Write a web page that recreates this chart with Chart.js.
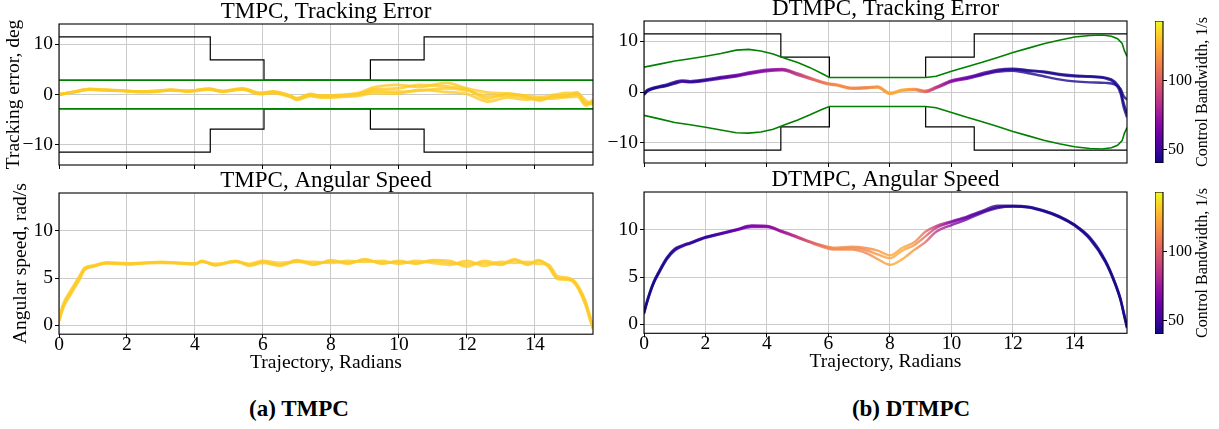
<!DOCTYPE html>
<html>
<head>
<meta charset="utf-8">
<script src="https://cdn.jsdelivr.net/npm/chart.js@4.4.1/dist/chart.umd.min.js"></script>
<style>
  body { margin: 0; background: #fff; }
  #fig { position: relative; width: 1219px; height: 429px; overflow: hidden; font-family: "Liberation Serif", "Times New Roman", serif; color: #000; }
  .box { position: absolute; }
  .caption { position: absolute; width: 300px; font-family: "Liberation Serif", serif; font-weight: bold; font-size: 23px; line-height: 23px; text-align: center; }
  .cblabel { position: absolute; font-family: "Liberation Serif", serif; font-size: 16px; line-height: 16px; white-space: nowrap; transform: translate(-50%, -50%) rotate(-90deg); }
</style>
</head>
<body>
<div id="fig">
  <div class="box" style="left:0;top:0;width:600px;height:172px"><canvas id="tmpcErr"></canvas></div>
  <div class="box" style="left:0;top:169.3px;width:600px;height:210.2px"><canvas id="tmpcSpeed"></canvas></div>
  <div class="box" style="left:600px;top:-2.7px;width:530px;height:173px"><canvas id="dtmpcErr"></canvas></div>
  <div class="box" style="left:600px;top:168px;width:530px;height:210.3px"><canvas id="dtmpcSpeed"></canvas></div>
  <div class="box" style="left:1155px;top:21.3px;width:58px;height:142px"><canvas id="cbTop"></canvas></div>
  <div class="box" style="left:1155px;top:192px;width:58px;height:142px"><canvas id="cbBottom"></canvas></div>
  <div class="cblabel" style="left:1202px;top:92.3px">Control Bandwidth, 1/s</div>
  <div class="cblabel" style="left:1202px;top:263px">Control Bandwidth, 1/s</div>
  <div class="caption" style="left:149px;top:397px">(a) TMPC</div>
  <div class="caption" style="left:761px;top:397px">(b) DTMPC</div>
</div>
<script>
// 軸範圍與刻度
const xMax = 15.708;
const xTicks = [0, 2, 4, 6, 8, 10, 12, 14];
const errTicks = [-10, 0, 10];
const speedTicks = [0, 5, 10];
const cbTicks = [50, 100];
const errRange = [-14, 14];
const speedRange = [-0.95, 14];
const cbRange = [40.4, 143.3];

// 黑色階梯界限
const boundX = [0, 4.45, 6.03, 9.16, 10.74, 15.708];
const boundUpper = [11.46, 6.88, 2.86, 6.88, 11.46, 11.46];
const boundLower = [-11.46, -6.88, -2.86, -6.88, -11.46, -11.46];

// TMPC 綠色管道 (固定)
const tmpcTubeX = [0, 15.708];
const tmpcTubeUpper = [2.86, 2.86];
const tmpcTubeLower = [-2.86, -2.86];
const tmpcBandwidth = 132;

// TMPC 追蹤誤差
const tmpcErrX = [0, 0.4, 0.9, 1.35, 1.85, 2.35, 2.8, 3.3, 3.8, 4.4, 4.8, 5.4, 5.9, 6.3, 6.8, 7.0, 7.4, 7.7, 8.25, 8.85, 9.25, 9.95, 10.6, 11.4, 12.0, 12.6, 13.2, 13.75, 14.15, 14.55, 14.95, 15.25, 15.5, 15.708];
const tmpcErrRun1 = [0, 0.45, 1.0, 0.85, 0.75, 0.55, 0.6, 0.85, 0.65, 1.05, 0.65, 1.05, 0.2, 0.45, -0.35, -0.9, -0.15, -0.45, -0.35, 0.0, 0.7, 0.55, 0.75, 1.2, 0.75, -0.3, -0.15, -0.6, -1.0, -0.45, -0.35, 0.05, -1.7, -1.5];
const tmpcErrRun2 = [0, 0.5, 1.1, 0.95, 0.8, 0.6, 0.7, 0.95, 0.7, 1.15, 0.7, 1.2, 0.35, 0.6, -0.2, -0.7, 0.1, -0.2, -0.1, 0.4, 1.4, 1.9, 1.5, 2.3, 1.2, 0.4, 0.2, -0.2, -0.5, -0.1, 0.3, 0.2, -1.2, -2.0];
const tmpcErrRun3 = [0, 0.4, 0.95, 0.8, 0.7, 0.5, 0.55, 0.8, 0.6, 0.95, 0.55, 0.95, 0.1, 0.3, -0.5, -1.05, -0.3, -0.6, -0.5, -0.2, 0.3, 0.2, 0.9, 0.5, 0.1, -1.4, -0.6, -1.0, -0.7, -0.8, -0.5, -0.4, -2.2, -1.0];
const tmpcErrRun4 = [0, 0.45, 1.05, 0.9, 0.75, 0.6, 0.65, 0.9, 0.7, 1.1, 0.6, 1.1, 0.25, 0.5, -0.3, -0.8, 0.0, -0.3, -0.2, 0.2, 1.0, 1.2, 1.9, 1.6, 1.0, -0.8, 0.1, -0.4, -1.2, -0.3, -0.1, 0.4, -1.9, -1.8];

// TMPC 角速度
const tmpcSpeedX = [0, 0.12, 0.35, 0.6, 0.76, 1.0, 1.4, 2.0, 2.5, 3.0, 3.5, 4.0, 4.2, 4.6, 5.2, 5.6, 6.0, 6.5, 7.0, 7.5, 8.0, 8.5, 9.0, 9.5, 10.0, 10.5, 11.0, 11.5, 12.0, 12.5, 13.0, 13.4, 13.8, 14.1, 14.4, 14.66, 15.0, 15.18, 15.47, 15.64, 15.708];
const tmpcSpeedRun1 = [0.5, 2.0, 3.5, 5.0, 6.0, 6.25, 6.6, 6.5, 6.6, 6.65, 6.6, 6.5, 6.75, 6.4, 6.8, 6.4, 6.7, 6.4, 6.9, 6.5, 6.75, 6.6, 6.9, 6.6, 6.7, 6.6, 6.8, 6.6, 6.5, 6.6, 6.4, 6.9, 6.4, 6.8, 6.3, 5.0, 4.9, 4.5, 2.5, 0.5, -0.3];
const tmpcSpeedRun2 = [0.6, 2.2, 3.7, 5.2, 6.1, 6.3, 6.65, 6.55, 6.6, 6.7, 6.6, 6.55, 6.7, 6.5, 6.7, 6.5, 6.8, 6.6, 6.7, 6.7, 6.6, 6.8, 6.7, 6.8, 6.5, 6.8, 6.6, 6.4, 6.8, 6.3, 6.7, 6.6, 6.7, 6.5, 6.4, 5.2, 5.0, 4.6, 2.7, 0.7, -0.2];
const tmpcSpeedRun3 = [0.4, 1.8, 3.3, 4.8, 5.9, 6.2, 6.55, 6.45, 6.55, 6.6, 6.55, 6.45, 6.8, 6.35, 6.75, 6.3, 6.6, 6.3, 6.8, 6.4, 6.9, 6.5, 7.0, 6.5, 6.8, 6.5, 6.9, 6.8, 6.2, 6.8, 6.5, 7.0, 6.5, 6.9, 6.2, 4.9, 4.8, 4.4, 2.3, 0.4, -0.4];

// DTMPC 綠色管道
const dtmpcTubeX = [0, 0.5, 1.0, 1.5, 2.0, 2.5, 3.0, 3.4, 3.8, 4.2, 4.6, 5.0, 5.4, 5.8, 6.03, 9.16, 9.5, 10.0, 10.5, 11.0, 11.5, 12.0, 12.5, 13.0, 13.5, 14.0, 14.5, 14.9, 15.2, 15.4, 15.55, 15.62, 15.708];
const dtmpcTubeUpper = [4.9, 5.5, 6.1, 6.55, 7.05, 7.6, 8.25, 8.4, 8.1, 7.5, 6.6, 5.8, 4.8, 3.6, 2.86, 2.86, 3.1, 4.1, 5.0, 5.85, 6.8, 7.8, 8.65, 9.5, 10.2, 10.85, 11.15, 11.25, 11.0, 10.5, 9.6, 8.2, 7.0];
const dtmpcTubeLower = [-4.6, -5.3, -6.0, -6.45, -6.95, -7.5, -8.05, -8.1, -7.9, -7.35, -6.4, -5.5, -4.5, -3.4, -2.86, -2.86, -3.1, -4.05, -5.0, -5.85, -6.8, -7.8, -8.65, -9.5, -10.2, -10.8, -11.15, -11.25, -11.0, -10.5, -9.6, -8.2, -7.0];

// DTMPC 軌跡 (共用 x 與頻寬)
const dtmpcX = [0, 0.1, 0.3, 0.5, 0.75, 1.0, 1.25, 1.5, 2, 2.5, 3, 3.5, 4, 4.5, 5, 5.5, 6, 6.25, 6.75, 7.25, 7.6, 8.0, 8.4, 8.8, 9.15, 9.5, 10, 10.5, 11, 11.5, 12, 12.5, 13, 13.5, 14, 14.5, 15, 15.3, 15.5, 15.6, 15.708];
const dtmpcBandwidth = [42, 42, 42, 43, 44, 46, 50, 48, 47, 53, 60, 66, 70, 76, 88, 102, 112, 114, 114, 112, 118, 122, 124, 116, 104, 86, 70, 60, 53, 48, 45, 44, 43, 43, 43, 43, 42, 42, 42, 42, 42];
const dtmpcErrRun1 = [-0.5, 0.2, 0.7, 1.0, 1.3, 1.8, 2.15, 2.0, 2.35, 2.8, 3.2, 3.8, 4.25, 4.45, 3.5, 2.5, 1.6, 1.4, 0.75, 0.85, 0.98, -0.3, 0.35, 0.5, 0.1, 0.85, 2.15, 2.75, 3.5, 4.2, 4.45, 4.15, 3.9, 3.4, 3.1, 3.0, 2.7, 1.8, -0.3, -3.0, -5.0];
const dtmpcErrRun2 = [-0.3, 0.4, 0.85, 1.15, 1.5, 2.0, 2.3, 2.15, 2.5, 2.95, 3.35, 3.95, 4.4, 4.55, 3.65, 2.6, 1.7, 1.5, 0.85, 0.95, 1.1, -0.15, 0.45, 0.6, 0.25, 1.0, 2.3, 2.9, 3.7, 4.4, 4.6, 4.3, 4.05, 3.55, 3.25, 3.1, 2.85, 2.1, 0.3, -2.2, -4.2];
const dtmpcErrRun3 = [-0.6, 0.1, 0.6, 0.9, 1.2, 1.65, 2.0, 1.9, 2.2, 2.65, 3.05, 3.65, 4.1, 4.3, 3.35, 2.4, 1.5, 1.3, 0.65, 0.75, 0.9, -0.4, 0.25, 0.4, 0.0, 0.75, 2.0, 2.6, 3.35, 4.0, 4.2, 3.7, 3.1, 2.5, 2.1, 1.9, 1.8, 1.5, 0.6, -0.8, -1.5];
const dtmpcSpeedRun1 = [1.2, 2.4, 4.3, 5.6, 7.0, 7.9, 8.3, 8.6, 9.2, 9.6, 10.0, 10.4, 10.35, 9.8, 9.2, 8.6, 8.1, 8.0, 8.05, 7.8, 7.4, 7.0, 7.8, 8.4, 9.3, 10.2, 10.8, 11.3, 11.9, 12.4, 12.5, 12.4, 12.0, 11.4, 10.5, 9.1, 6.7, 4.5, 2.6, 1.2, -0.3];
const dtmpcSpeedRun2 = [1.1, 2.3, 4.2, 5.5, 6.9, 7.8, 8.25, 8.55, 9.15, 9.55, 9.95, 10.3, 10.3, 9.75, 9.15, 8.55, 8.0, 7.9, 7.9, 7.5, 6.9, 6.3, 6.9, 7.9, 8.7, 9.8, 10.5, 11.1, 11.8, 12.3, 12.45, 12.35, 11.95, 11.35, 10.45, 9.0, 6.6, 4.4, 2.5, 1.1, -0.4];
const dtmpcSpeedRun3 = [1.3, 2.5, 4.4, 5.7, 7.1, 8.0, 8.35, 8.65, 9.25, 9.65, 10.05, 10.45, 10.4, 9.85, 9.25, 8.65, 8.2, 8.1, 8.2, 8.05, 7.8, 7.3, 8.1, 8.7, 9.8, 10.4, 10.9, 11.4, 12.0, 12.55, 12.55, 12.45, 12.05, 11.45, 10.55, 9.2, 6.8, 4.6, 2.7, 1.3, -0.2];

// plasma 色表
const plasmaStops = ['#0d0887', '#41049d', '#6a00a8', '#8f0da4', '#b12a90', '#cc4778', '#e16462', '#f2844b', '#fca636', '#fcce25', '#f0f921'];

const FONT = 'Liberation Serif';
const GRID = '#cbcbcb';
Chart.defaults.font.family = FONT;
Chart.defaults.color = '#000';

function hexRgb(h) {
  return [1, 3, 5].map(i => parseInt(h.substr(i, 2), 16));
}
function plasma(bw, alpha) {
  let t = (bw - cbRange[0]) / (cbRange[1] - cbRange[0]);
  t = Math.min(1, Math.max(0, t)) * (plasmaStops.length - 1);
  const i = Math.min(Math.floor(t), plasmaStops.length - 2);
  const f = t - i;
  const a = hexRgb(plasmaStops[i]), b = hexRgb(plasmaStops[i + 1]);
  const c = a.map((v, k) => Math.round(v + (b[k] - v) * f));
  return 'rgba(' + c.join(',') + ',' + (alpha == null ? 1 : alpha) + ')';
}

function pts(xs, ys) {
  return xs.map((x, i) => ({ x: x, y: ys[i] }));
}

// 依頻寬沿 x 方向上色
function bandwidthGradient(context) {
  const chart = context.chart;
  const area = chart.chartArea;
  const xs = chart.scales.x;
  if (!area || !xs) return plasma(dtmpcBandwidth[0], 0.8);
  const g = chart.ctx.createLinearGradient(area.left, 0, area.right, 0);
  dtmpcX.forEach((x, i) => {
    const t = (xs.getPixelForValue(x) - area.left) / (area.right - area.left);
    g.addColorStop(Math.min(1, Math.max(0, t)), plasma(dtmpcBandwidth[i], 0.8));
  });
  return g;
}

function curve(xs, ys, color, width) {
  return { data: pts(xs, ys), borderColor: color, borderWidth: width || 2.4, pointRadius: 0, cubicInterpolationMode: 'monotone', fill: false };
}
function bound(xs, ys, color, width, stepped) {
  return { data: pts(xs, ys), borderColor: color, borderWidth: width, pointRadius: 0, stepped: stepped, tension: 0, fill: false };
}

function fixAxis(size) {
  return function (scale) {
    if (scale.isHorizontal()) scale.height = size; else scale.width = size;
    scale.paddingTop = 0; scale.paddingBottom = 0; scale.paddingLeft = 0; scale.paddingRight = 0;
  };
}
function setTicks(values) {
  return function (scale) { scale.ticks = values.map(v => ({ value: v })); };
}
function minusFmt(v) {
  return v < 0 ? '\u2212' + Math.abs(v) : String(v);
}

// 外框
const frame = {
  id: 'frame',
  afterDraw(chart) {
    const a = chart.chartArea;
    const ctx = chart.ctx;
    ctx.save();
    ctx.strokeStyle = '#000';
    ctx.lineWidth = 1.1;
    ctx.strokeRect(a.left, a.top, a.right - a.left, a.bottom - a.top);
    ctx.restore();
  }
};

function lineChart(id, cfg) {
  return new Chart(document.getElementById(id), {
    type: 'line',
    data: { datasets: cfg.datasets },
    options: {
      responsive: true,
      maintainAspectRatio: false,
      animation: false,
      devicePixelRatio: 1,
      layout: { padding: { right: cfg.padRight } },
      plugins: {
        legend: { display: false },
        tooltip: { enabled: false },
        title: {
          display: true, text: cfg.title, fullSize: false, color: '#000',
          font: { family: FONT, size: 23, weight: 'normal', lineHeight: 1 },
          padding: { top: 0, bottom: 1 }
        }
      },
      scales: {
        x: {
          type: 'linear', min: 0, max: xMax,
          afterBuildTicks: setTicks(xTicks),
          afterFit: fixAxis(cfg.xHeight),
          ticks: { display: cfg.xLabels, font: { family: FONT, size: 19.5, lineHeight: 1 }, color: '#000', padding: -3 },
          grid: { color: GRID, tickColor: '#000', tickLength: 4, lineWidth: 1 },
          border: { display: false },
          title: {
            display: cfg.xLabels, text: 'Trajectory, Radians', color: '#000',
            font: { family: FONT, size: 19.5, lineHeight: 1.2 }, padding: { top: 0, bottom: 4.4 }
          }
        },
        y: {
          type: 'linear', min: cfg.yRange[0], max: cfg.yRange[1],
          afterBuildTicks: setTicks(cfg.yTicks),
          afterFit: fixAxis(cfg.yWidth),
          ticks: { font: { family: FONT, size: 19.5, lineHeight: 1 }, color: '#000', padding: 2, callback: minusFmt },
          grid: { color: GRID, tickColor: '#000', tickLength: 4, lineWidth: 1 },
          border: { display: false },
          title: {
            display: !!cfg.yTitle, text: cfg.yTitle || '', color: '#000',
            font: { family: FONT, size: 19.5, lineHeight: 1 }, padding: { top: cfg.yTitlePad || 0, bottom: 0 }
          }
        }
      }
    },
    plugins: [frame]
  });
}

function colorbar(id) {
  return new Chart(document.getElementById(id), {
    type: 'bar',
    data: {
      labels: [''],
      datasets: [{
        data: [cbRange],
        backgroundColor: function (context) {
          const chart = context.chart;
          const area = chart.chartArea;
          if (!area) return plasma(cbRange[0]);
          const g = chart.ctx.createLinearGradient(0, area.bottom, 0, area.top);
          plasmaStops.forEach((c, i) => g.addColorStop(i / (plasmaStops.length - 1), c));
          return g;
        },
        borderWidth: 0,
        barPercentage: 1,
        categoryPercentage: 1
      }]
    },
    options: {
      responsive: true,
      maintainAspectRatio: false,
      animation: false,
      devicePixelRatio: 1,
      layout: { padding: 0 },
      plugins: { legend: { display: false }, tooltip: { enabled: false } },
      scales: {
        x: { display: false },
        y: {
          position: 'right', min: cbRange[0], max: cbRange[1],
          afterBuildTicks: setTicks(cbTicks),
          afterFit: fixAxis(50),
          ticks: { font: { family: FONT, size: 16, lineHeight: 1 }, color: '#000', padding: 1 },
          grid: { drawOnChartArea: false, tickColor: '#000', tickLength: 4 },
          border: { display: false }
        }
      }
    },
    plugins: [frame]
  });
}

document.addEventListener('DOMContentLoaded', function () {
  const yellow = plasma(tmpcBandwidth, 0.8);

  lineChart('tmpcErr', {
    title: 'TMPC, Tracking Error', yTitle: 'Tracking error, deg', yTitlePad: 3.85,
    yRange: errRange, yTicks: errTicks, yWidth: 59, xHeight: 7, xLabels: false, padRight: 7,
    datasets: [
      curve(tmpcErrX, tmpcErrRun1, yellow, 2.8),
      curve(tmpcErrX, tmpcErrRun2, yellow, 2.8),
      curve(tmpcErrX, tmpcErrRun3, yellow, 2.8),
      curve(tmpcErrX, tmpcErrRun4, yellow, 2.8),
      bound(tmpcTubeX, tmpcTubeUpper, '#008000', 1.6, false),
      bound(tmpcTubeX, tmpcTubeLower, '#008000', 1.6, false),
      bound(boundX, boundUpper, '#000', 1.2, true),
      bound(boundX, boundLower, '#000', 1.2, true)
    ]
  });

  lineChart('tmpcSpeed', {
    title: 'TMPC, Angular Speed', yTitle: 'Angular speed, rad/s', yTitlePad: 11.35,
    yRange: speedRange, yTicks: speedTicks, yWidth: 59, xHeight: 45, xLabels: true, padRight: 7,
    datasets: [
      curve(tmpcSpeedX, tmpcSpeedRun1, yellow, 2.8),
      curve(tmpcSpeedX, tmpcSpeedRun2, yellow, 2.8),
      curve(tmpcSpeedX, tmpcSpeedRun3, yellow, 2.8)
    ]
  });

  const dErr = [dtmpcErrRun1, dtmpcErrRun2, dtmpcErrRun3].map(r => curve(dtmpcX, r, bandwidthGradient));
  lineChart('dtmpcErr', {
    title: 'DTMPC, Tracking Error',
    yRange: errRange, yTicks: errTicks, yWidth: 44, xHeight: 7, xLabels: false, padRight: 3,
    datasets: dErr.concat([
      bound(dtmpcTubeX, dtmpcTubeUpper, '#008000', 1.6, false),
      bound(dtmpcTubeX, dtmpcTubeLower, '#008000', 1.6, false),
      bound(boundX, boundUpper, '#000', 1.2, true),
      bound(boundX, boundLower, '#000', 1.2, true)
    ])
  });

  lineChart('dtmpcSpeed', {
    title: 'DTMPC, Angular Speed',
    yRange: speedRange, yTicks: speedTicks, yWidth: 44, xHeight: 45, xLabels: true, padRight: 3,
    datasets: [dtmpcSpeedRun1, dtmpcSpeedRun2, dtmpcSpeedRun3].map(r => curve(dtmpcX, r, bandwidthGradient))
  });

  colorbar('cbTop');
  colorbar('cbBottom');
});
</script>
</body>
</html>
